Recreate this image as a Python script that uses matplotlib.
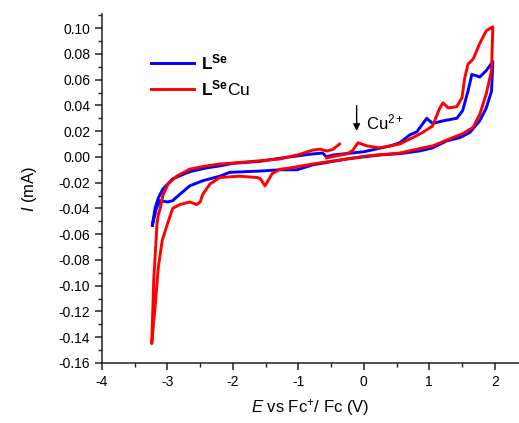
import matplotlib
matplotlib.use('Agg')
import matplotlib.pyplot as plt
from matplotlib.ticker import MultipleLocator, FormatStrFormatter

plt.rcParams['font.family'] = 'Liberation Sans'
plt.rcParams['mathtext.fontset'] = 'custom'
plt.rcParams['mathtext.rm'] = 'Liberation Sans'
plt.rcParams['mathtext.it'] = 'Liberation Sans:italic'
plt.rcParams['mathtext.bf'] = 'Liberation Sans:bold'
plt.rcParams['axes.unicode_minus'] = False

# L(Se): forward scan then reverse scan
blue_E = [-3.23, -3.19, -3.14, -3.07, -2.92, -2.66, -2.4, -2.2, -2.0, -1.59, -1.28, -0.98,
          -0.78, -0.63, -0.57, -0.47, 0.0, 0.40, 0.55, 0.70, 0.81, 0.96, 1.05, 1.21, 1.42,
          1.51, 1.59, 1.65, 1.72, 1.77, 1.87, 1.97,
          1.95, 1.87, 1.77, 1.62, 1.47, 1.27, 1.05, 0.86, 0.55, 0.24, -0.26, -0.78, -1.02,
          -1.28, -1.59, -2.05, -2.2, -2.46, -2.66, -2.81, -2.92, -3.0, -3.11, -3.17, -3.23]
blue_I = [-0.053, -0.040, -0.032, -0.025, -0.017, -0.0115, -0.0085, -0.007, -0.0050, -0.0035,
          -0.0010, 0.001, 0.0023, 0.003, 0.0, 0.0015, 0.004, 0.0085, 0.011, 0.017, 0.0195,
          0.030, 0.026, 0.028, 0.030, 0.036, 0.051, 0.064, 0.063, 0.062, 0.067, 0.074,
          0.051, 0.038, 0.028, 0.019, 0.015, 0.0125, 0.007, 0.0047, 0.0025, 0.0015, -0.0016,
          -0.0062, -0.010, -0.010, -0.011, -0.012, -0.015, -0.0185, -0.0225, -0.029, -0.034,
          -0.035, -0.034, -0.040, -0.053]

# L(Se)Cu: starts near -0.57 V, scans positive, back to -3.24 V, then forward to -0.37 V
red_E = [-0.57, -0.45, -0.26, -0.17, -0.09, 0.05, 0.24, 0.55, 0.75, 0.90, 1.05, 1.16, 1.21,
         1.29, 1.42, 1.50, 1.54, 1.59, 1.67, 1.77, 1.87, 1.97,
         1.95, 1.87, 1.77, 1.67, 1.51, 1.31, 1.05, 0.90, 0.55, 0.05, -0.26, -0.78, -1.18,
         -1.28, -1.40, -1.51, -1.58, -1.63, -1.9, -2.2, -2.35, -2.46, -2.5, -2.55, -2.66,
         -2.81, -2.92, -3.0, -3.08, -3.14, -3.19, -3.24,
         -3.21, -3.18, -3.16, -3.14, -3.11, -3.07, -2.99, -2.86, -2.66, -2.4, -2.2, -2.0,
         -1.59, -1.28, -0.98, -0.78, -0.67, -0.56, -0.47, -0.37]
red_I = [-0.0008, 0.0005, 0.0023, 0.005, 0.011, 0.0085, 0.007, 0.010, 0.015, 0.019, 0.024,
         0.038, 0.042, 0.038, 0.039, 0.046, 0.061, 0.072, 0.076, 0.088, 0.098, 0.101,
         0.067, 0.049, 0.033, 0.023, 0.018, 0.014, 0.0085, 0.007, 0.003, 0.0008, -0.0016,
         -0.0055, -0.009, -0.0095, -0.013, -0.0225, -0.017, -0.016, -0.015, -0.016, -0.021,
         -0.029, -0.035, -0.037, -0.035, -0.037, -0.040, -0.052, -0.065, -0.086, -0.117,
         -0.145,
         -0.096, -0.070, -0.052, -0.045, -0.040, -0.030, -0.021, -0.015, -0.0095, -0.007,
         -0.0055, -0.0048, -0.003, -0.0016, 0.002, 0.0053, 0.006, 0.0045, 0.006, 0.010]

x_ticks = [-4, -3, -2, -1, 0, 1, 2]

fig = plt.figure(figsize=(5.19, 4.23), dpi=100)
ax = fig.add_axes([0.1965, 0.142, 0.8035, 0.825])

ax.plot(blue_E, blue_I, color='#0000ff', lw=2.1, label=r'$\mathbf{L}^{\mathbf{Se}}$')
ax.plot(red_E, red_I, color='#ff0000', lw=2.1, label=r'$\mathbf{L}^{\mathbf{Se}}$Cu')

# arrow marking the Cu(II) feature
ax.annotate('', xy=(-0.11, 0.018), xytext=(-0.11, 0.042),
            arrowprops=dict(arrowstyle='-|>', color='black', lw=1.0, mutation_scale=10))
ax.text(0.04, 0.027, r'Cu$^{2+}$', fontsize=12, va='center', ha='left')

ax.set_xlim(-4, 2.37)
ax.set_ylim(-0.16, 0.111)
ax.set_xticks(x_ticks)
ax.xaxis.set_minor_locator(MultipleLocator(0.5))
ax.yaxis.set_major_locator(MultipleLocator(0.02))
ax.yaxis.set_minor_locator(MultipleLocator(0.01))
ax.yaxis.set_major_formatter(FormatStrFormatter('%.2f'))

ax.spines['top'].set_visible(False)
ax.spines['right'].set_visible(False)
for s in ['left', 'bottom']:
    ax.spines[s].set_linewidth(1.1)
    ax.spines[s].set_color('#222222')
ax.tick_params(which='major', direction='out', length=5, width=1.1, labelsize=10, colors='#222222')
ax.tick_params(which='minor', direction='out', length=3, width=1.0, colors='#222222')
ax.tick_params(labelcolor='black')

ax.set_xlabel(r'$\mathit{E}$ vs Fc$^{+}$/ Fc (V)', fontsize=12, labelpad=6)
ax.set_ylabel(r'$\mathit{I}$ (mA)', fontsize=12, labelpad=14)

ax.legend(loc='upper left', bbox_to_anchor=(0.08, 0.935), frameon=False, fontsize=12.5,
          handlelength=2.5, handletextpad=0.4, labelspacing=0.35)

fig.savefig('out.png', dpi=100)
